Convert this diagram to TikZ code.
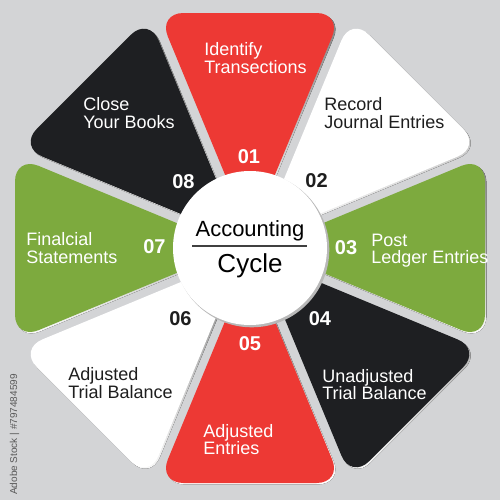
\documentclass[tikz,border=0pt]{standalone}
\usepackage{fontspec}
\setmainfont{Liberation Sans}
\definecolor{bgc}{RGB}{211,212,214}
\definecolor{wred}{RGB}{237,57,52}
\definecolor{wblack}{RGB}{30,31,34}
\definecolor{wgreen}{RGB}{125,170,62}
\definecolor{wwhite}{RGB}{255,255,255}
\definecolor{txtdark}{RGB}{30,30,30}
\definecolor{shade}{RGB}{90,90,92}
\tikzset{
  lbl/.style={anchor=base west, inner sep=0pt, font=\fontsize{13.5pt}{13.5pt}\selectfont},
  numl/.style={anchor=center, inner sep=0pt, font=\fontsize{15pt}{15pt}\selectfont\bfseries},
}
\newcommand{\wedgepath}{(235,0) -- (235,91.9) -- (13,0) -- (235,-91.9) -- cycle}
\begin{document}
\begin{tikzpicture}[x=0.75pt,y=-0.75pt]
\fill[bgc] (0,0) rectangle (500,500);
\useasboundingbox (0,0) rectangle (500,500);
% wedge shadows
\foreach \ang in {90,45,0,-45,-90,-135,180,135}{
  \begin{scope}[shift={(251.4,249.4)}, rotate=\ang]
    \fill[shade,rounded corners=19pt] \wedgepath;
  \end{scope}
}
% wedges
\foreach \ang/\col in {90/wred,45/wwhite,0/wgreen,-45/wblack,-90/wred,-135/wwhite,180/wgreen,135/wblack}{
  \begin{scope}[shift={(250,248)}, rotate=\ang]
    \fill[\col,rounded corners=19pt] \wedgepath;
  \end{scope}
}
% centre circle
\fill[black!28] (251.8,249.8) circle[radius=77.5];
\node[circle, fill=white, minimum size=115.5pt, inner sep=0pt] (hub) at (250,248) {};
\node[anchor=base, inner sep=0pt, font=\fontsize{16.5pt}{16.5pt}\selectfont, text=black] (acc) at (250,236) {Accounting};
\node[anchor=base, inner sep=0pt, font=\fontsize{19.5pt}{19.5pt}\selectfont, text=black] (cyc) at (250,272) {Cycle};
\coordinate (ruleL) at (192,246);
\coordinate (ruleR) at (307,246);
\draw[black!75, line width=0.8pt] (ruleL) -- (ruleR);
% numbers
\node[numl, text=white] (n1) at (249,156.5) {01};
\node[numl, text=txtdark] (n2) at (316.5,181) {02};
\node[numl, text=white] (n3) at (346,248) {03};
\node[numl, text=white] (n4) at (320,318.5) {04};
\node[numl, text=white] (n5) at (250,343.5) {05};
\node[numl, text=txtdark] (n6) at (180.5,318.5) {06};
\node[numl, text=white] (n7) at (154.5,247) {07};
\node[numl, text=white] (n8) at (183.5,181.5) {08};
% labels
\node[lbl, text=white] (l1a) at (204,55) {Identify};
\node[lbl, text=white] (l1b) at (204,73) {Transections};
\node[lbl, text=txtdark] (l2a) at (324,110) {Record};
\node[lbl, text=txtdark] (l2b) at (324,128) {Journal Entries};
\node[lbl, text=white] (l3a) at (371,246) {Post};
\node[lbl, text=white] (l3b) at (371,263) {Ledger Entries};
\node[lbl, text=white] (l4a) at (322,382) {Unadjusted};
\node[lbl, text=white] (l4b) at (322,399) {Trial Balance};
\node[lbl, text=white] (l5a) at (203,437) {Adjusted};
\node[lbl, text=white] (l5b) at (203,454) {Entries};
\node[lbl, text=txtdark] (l6a) at (68,380) {Adjusted};
\node[lbl, text=txtdark] (l6b) at (68,398) {Trial Balance};
\node[lbl, text=white] (l7a) at (26,245) {Finalcial};
\node[lbl, text=white] (l7b) at (26,263) {Statements};
\node[lbl, text=white] (l8a) at (83,110) {Close};
\node[lbl, text=white] (l8b) at (83,128) {Your Books};
% side credit
\node[rotate=90, anchor=base west, inner sep=0pt, font=\fontsize{7.5pt}{7.5pt}\selectfont, text=black!65] (credit) at (17,495) {Adobe Stock | \#797484599};
\end{tikzpicture}
\end{document}
